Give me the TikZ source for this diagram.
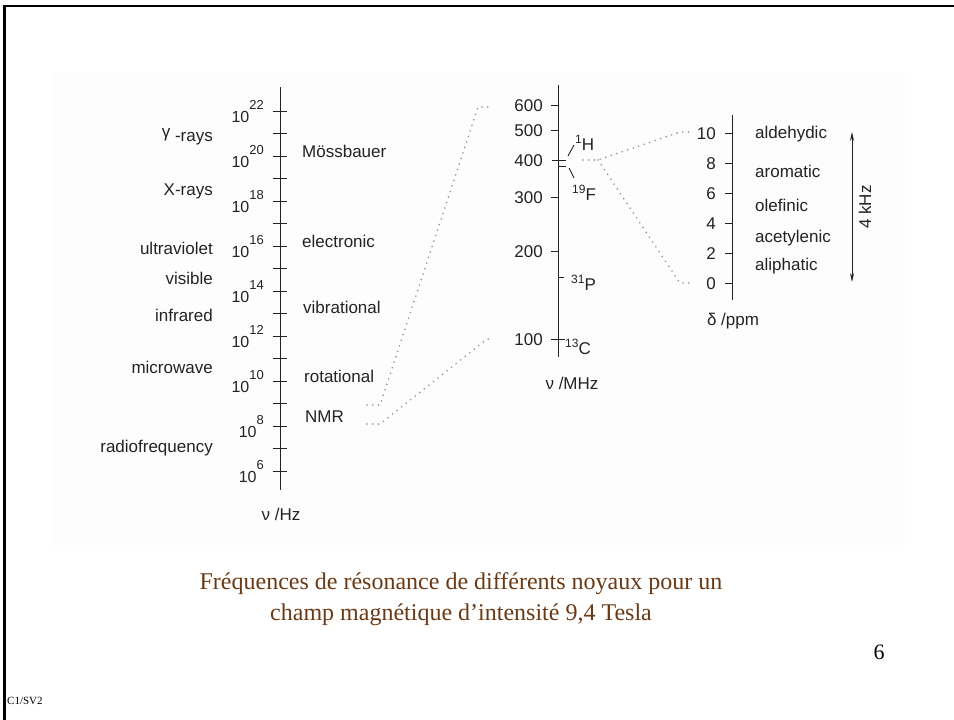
\documentclass[tikz,border=0pt]{standalone}
\usepackage{fontspec}
\setmainfont{Liberation Serif}
\newfontfamily\labfont{Liberation Sans}
\usetikzlibrary{arrows.meta}
\definecolor{capbrown}{RGB}{107,58,20}
\definecolor{ink}{RGB}{35,35,35}
\newcommand{\tenp}[1]{10\raisebox{13pt}{\fontsize{13}{13}\selectfont #1}}
\newcommand{\nucl}[2]{\raisebox{7pt}{\fontsize{12}{12}\selectfont #1}#2}
\begin{document}
\begin{tikzpicture}[x=1pt,y=-1pt,
  lbl/.style={font=\labfont\fontsize{17}{20}\selectfont, text=ink, inner sep=0pt},
  pw/.style={font=\labfont\fontsize{16}{20}\selectfont, text=ink, inner sep=0pt, anchor=base east},
  axisline/.style={line width=0.9pt, draw=ink},
  tk/.style={line width=0.9pt, draw=ink},
  dots/.style={line width=1.8pt, dash pattern=on 0pt off 5.8pt, line cap=round, draw=black!42},
  capt/.style={font=\fontsize{24}{31}\selectfont, text=capbrown, inner sep=0pt, anchor=base}]
\useasboundingbox (0,0) rectangle (954,720);
\fill[white] (0,0) rectangle (954,720);
\fill[black!0.8] (50,72) rectangle (905,545);
% frame
\draw[line width=2.6pt] (4.5,720) -- (4.5,6) -- (954,6);

% ---------- left axis ----------
\draw[axisline] (280,87) -- (280,490);
\foreach \y in {111,156,201,246,291,336,381,426,471} \draw[tk] (273,\y) -- (287,\y);
\foreach \y in {133.5,178.5,223.5,268.5,313.5,358.5,403.5,448.5} \draw[tk] (273,\y) -- (287,\y);
\foreach \e/\y in {22/111,20/156,18/201,16/246,14/291,12/336,10/381,8/426,6/471}
  \node[pw] (p\e) at (264,\y+11) {\tenp{\e}};

\node[lbl, anchor=base east] (gam) at (213,141) {\raisebox{3.5pt}{γ} -rays};
\node[lbl, anchor=base east] (xr) at (213,195) {X-rays};
\node[lbl, anchor=base east] (uv) at (213,254) {ultraviolet};
\node[lbl, anchor=base east] (vis) at (213,284) {visible};
\node[lbl, anchor=base east] (ir) at (213,321) {infrared};
\node[lbl, anchor=base east] (mw) at (213,373) {microwave};
\node[lbl, anchor=base east] (rf) at (213,452) {radiofrequency};

\node[lbl, anchor=base west] (moss) at (302,157) {Mössbauer};
\node[lbl, anchor=base west] (elec) at (302,247) {electronic};
\node[lbl, anchor=base west] (vib) at (303,313) {vibrational};
\node[lbl, anchor=base west] (rot) at (304,382) {rotational};
\node[lbl, anchor=base west] (nmr) at (305,422) {NMR};
\node[lbl, anchor=base] (hz) at (281,520) {ν /Hz};

% ---------- middle axis ----------
\draw[axisline] (558,85) -- (558,357);
\foreach \y in {105,130,197,251} \draw[tk] (551,\y) -- (558,\y);
\draw[tk] (551,339) -- (565,339);
\draw[tk] (552,160) -- (566,160);
\draw[tk] (559,166) -- (566,166);
\draw[tk] (559,277) -- (564,277);
\draw[tk] (568,156) -- (574,145);
\draw[tk] (569,168) -- (574,178);
\foreach \v/\y in {600/105,500/130,400/160,300/197,200/251,100/339}
  \node[lbl, anchor=base east] (m\v) at (543,\y+6) {\v};
\node[lbl, anchor=base west] (nh) at (575,150) {\nucl{1}{H}};
\node[lbl, anchor=base west] (nf) at (572,200) {\nucl{19}{F}};
\node[lbl, anchor=base west] (np) at (571,290) {\nucl{31}{P}};
\node[lbl, anchor=base west] (nc) at (565,354) {\nucl{13}{C}};
\node[lbl, anchor=base] (mhz) at (572,389) {ν /MHz};

% ---------- right axis ----------
\draw[axisline] (732,115) -- (732,300);
\foreach \d/\y in {10/133,8/163,6/193,4/223,2/253,0/283} {
  \draw[tk] (725,\y) -- (732,\y);
  \node[lbl, anchor=base east] (d\d) at (716,\y+6) {\d};
}
\node[lbl, anchor=base west] (ald) at (755,138) {aldehydic};
\node[lbl, anchor=base west] (aro) at (755,177) {aromatic};
\node[lbl, anchor=base west] (ole) at (755,211) {olefinic};
\node[lbl, anchor=base west] (ace) at (755,242) {acetylenic};
\node[lbl, anchor=base west] (ali) at (755,270) {aliphatic};
\node[lbl, anchor=base] (ppm) at (733,325) {δ /ppm};
\coordinate (atop) at (852,132);
\coordinate (abot) at (852,282);
\draw[line width=0.9pt, draw=ink, {Stealth[length=9pt,width=4pt]}-{Stealth[length=9pt,width=4pt]}] (atop) -- (abot);
\node[lbl, rotate=90] (khz) at (865,207) {4 kHz};

% ---------- dotted connectors ----------
\coordinate (u0) at (367,405); \coordinate (u1) at (380,405);
\coordinate (u2) at (478,107); \coordinate (u3) at (493,107);
\coordinate (l0) at (367,424); \coordinate (l1) at (380,424);
\coordinate (l2) at (487,339); \coordinate (l3) at (493,339);
\coordinate (h0) at (583,160); \coordinate (h1) at (598,160);
\coordinate (h2) at (680,132); \coordinate (h3) at (692,132);
\coordinate (z2) at (680,283); \coordinate (z3) at (692,283);
\draw[dots] (u0) -- (u1) -- (u2) -- (u3);
\draw[dots] (l0) -- (l1) -- (l2) -- (l3);
\draw[dots] (h0) -- (h1) -- (h2) -- (h3);
\draw[dots] (h1) -- (z2) -- (z3);

% ---------- caption ----------
\node[capt] (cap1) at (461,589) {Fréquences de résonance de différents noyaux pour un};
\node[capt] (cap2) at (461,620) {champ magnétique d’intensité 9,4 Tesla};
\node[font=\fontsize{22}{22}\selectfont, inner sep=0pt, anchor=base] (pg) at (879,659) {6};
\node[font=\fontsize{11}{11}\selectfont, inner sep=0pt, anchor=base west] (cv) at (7,704) {C1/SV2};
\end{tikzpicture}
\end{document}
